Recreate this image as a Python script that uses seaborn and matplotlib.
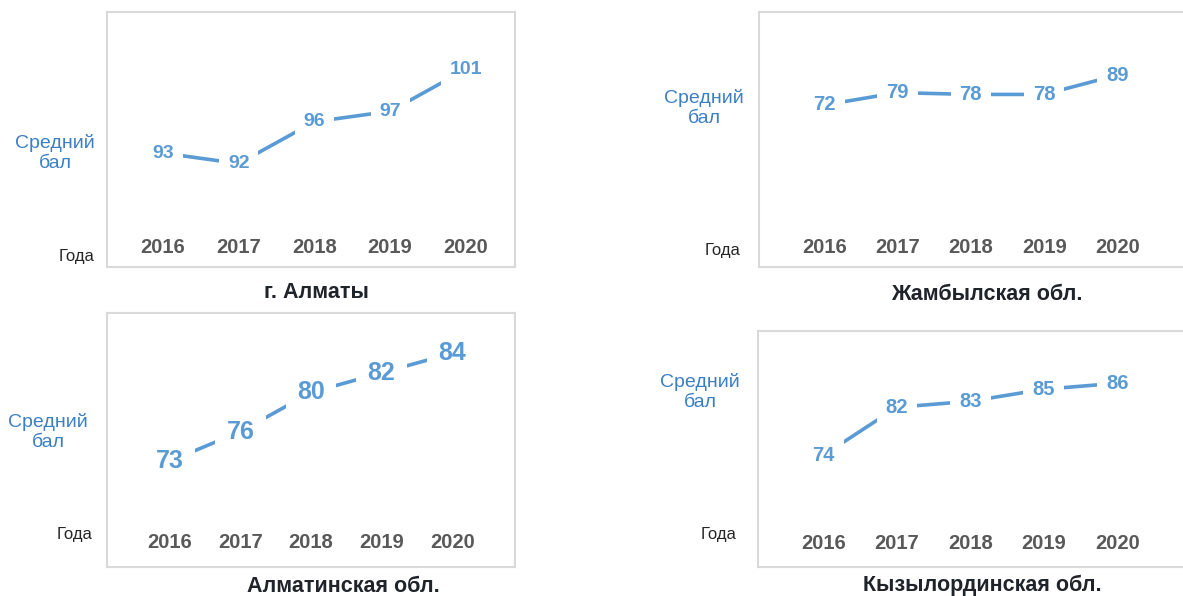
import matplotlib
matplotlib.use("Agg")
import matplotlib.pyplot as plt
import seaborn as sns

sns.set_theme(style="white")
plt.rcParams['font.family'] = ['Liberation Sans', 'DejaVu Sans']

# data
years = [2016, 2017, 2018, 2019, 2020]
almaty_city = [93, 92, 96, 97, 101]
zhambyl = [72, 79, 78, 78, 89]
almaty_obl = [73, 76, 80, 82, 84]
kyzylorda = [74, 82, 83, 85, 86]
titles = ["г. Алматы", "Жамбылская обл.", "Алматинская обл.", "Кызылординская обл."]
y_label = "Средний\nбал"
x_label = "Года"

LINE = "#5B9BD5"
YLAB = "#3B7FC4"
W, H = 1183, 596

fig = plt.figure(figsize=(W / 100, H / 100), dpi=100)

# layout per panel (pixels): box l, t, r, b ; xlim ; ylim ; label size ;
# year label height ; ylabel pos ; xlabel pos ; title pos
panels = [
    dict(vals=almaty_city, box=(107, 12, 515, 267), xl=(-0.74, 4.65), yl=(82.1, 106.5),
         fs=14, yr=0.078, ylp=(55, 153), xlp=(77, 256), tp=(316, 293)),
    dict(vals=zhambyl, box=(759, 12, 1190, 267), xl=(-0.89, 4.99), yl=(-20, 124.8),
         fs=14.5, yr=0.075, ylp=(704, 108), xlp=(723, 250), tp=(987, 295)),
    dict(vals=almaty_obl, box=(107, 313, 515, 567), xl=(-0.89, 4.89), yl=(62.2, 88.1),
         fs=18, yr=0.098, ylp=(48, 432), xlp=(75, 535), tp=(343, 586)),
    dict(vals=kyzylorda, box=(758, 331, 1190, 567), xl=(-0.89, 4.99), yl=(55.4, 94.7),
         fs=14.5, yr=0.10, ylp=(700, 392), xlp=(719, 535), tp=(982, 585)),
]

for p, title in zip(panels, titles):
    l, t, r, b = p["box"]
    ax = fig.add_axes([l / W, (H - b) / H, (r - l) / W, (b - t) / H])
    sns.lineplot(x=years, y=p["vals"], ax=ax, color=LINE, linewidth=2.6,
                 solid_capstyle="butt")
    for yr, v in zip(years, p["vals"]):
        ax.text(yr, v, str(v), ha="center", va="center", fontsize=p["fs"],
                fontweight="bold", color=LINE, zorder=5,
                bbox=dict(boxstyle="square,pad=0.45", fc="white", ec="none"))
        ax.text(yr, p["yr"], str(yr), ha="center", va="center", fontsize=14.5,
                fontweight="bold", color="#595959",
                transform=ax.get_xaxis_transform())
    ax.set_xlim(years[0] + p["xl"][0], years[0] + p["xl"][1])
    ax.set_ylim(*p["yl"])
    ax.set_xticks([])
    ax.set_yticks([])
    ax.set_xlabel("")
    ax.set_ylabel("")
    for s in ax.spines.values():
        s.set_color("#D9D9D9")
        s.set_linewidth(1.5)
    fig.text(p["ylp"][0] / W, 1 - p["ylp"][1] / H, y_label, ha="center", va="center",
             fontsize=14, color=YLAB, linespacing=1.25)
    fig.text(p["xlp"][0] / W, 1 - p["xlp"][1] / H, x_label, ha="center", va="center",
             fontsize=12, color="#262626")
    fig.text(p["tp"][0] / W, 1 - p["tp"][1] / H, title, ha="center", va="center",
             fontsize=15.5, fontweight="bold", color="#1F242B")

fig.savefig("out.png", dpi=100)
